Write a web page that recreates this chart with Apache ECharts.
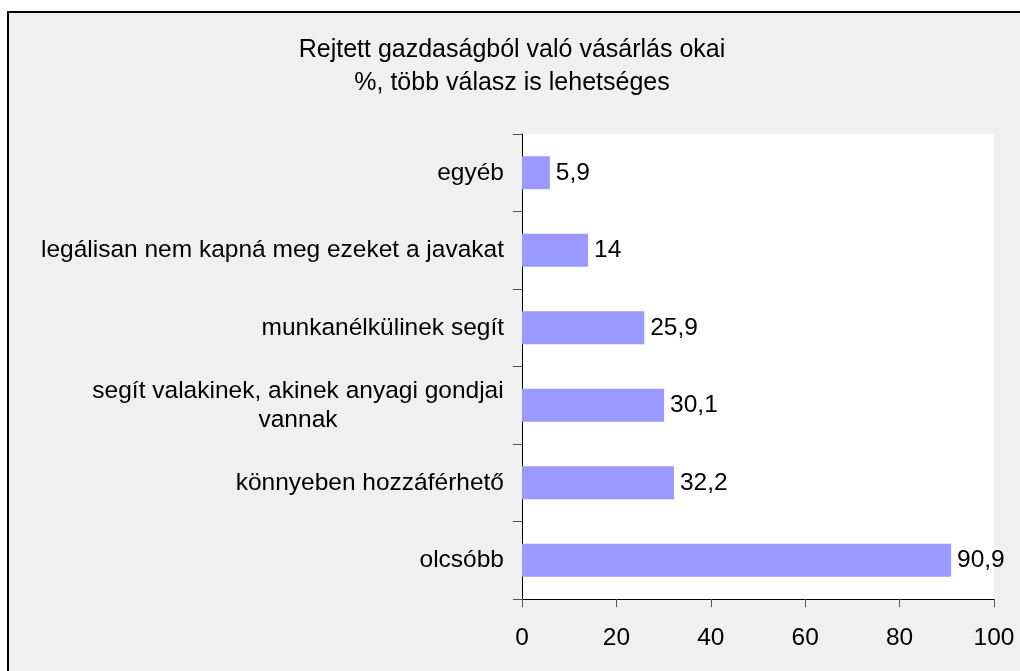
<!DOCTYPE html>
<html>
<head>
<meta charset="utf-8">
<script src="https://cdn.jsdelivr.net/npm/echarts@6/dist/echarts.min.js"></script>
<style>
	html, body { margin: 0; padding: 0; background: #fff; }
	#chart { width: 1020px; height: 671px; }
</style>
</head>
<body>
<div id="chart"></div>
<script>
	// bottom to top, as in the picture
	var categories = [
		'olcsóbb',
		'könnyeben hozzáférhető',
		'segít valakinek, akinek anyagi gondjai\nvannak',
		'munkanélkülinek segít',
		'legálisan nem kapná meg ezeket a javakat',
		'egyéb'
	];
	var values = [90.9, 32.2, 30.1, 25.9, 14, 5.9];
	var titleLines = ['Rejtett gazdaságból való vásárlás okai', '%, több válasz is lehetséges'];

	var font = '"Liberation Sans", Arial, sans-serif';
	var fs = 24.5;

	// widest line of a wrapped label, so its lines can be centred on each other
	function widest(txt) {
		var ctx = document.createElement('canvas').getContext('2d');
		ctx.font = fs + 'px ' + font;
		var w = 0;
		txt.split('\n').forEach(function(l) {
			w = Math.max(w, ctx.measureText(l).width);
		});
		return Math.ceil(w);
	}
	var wrapW = 0;
	categories.forEach(function(c) {
		if (c.indexOf('\n') >= 0) wrapW = Math.max(wrapW, widest(c));
	});

	var chart = echarts.init(document.getElementById('chart'));

	chart.setOption({
		animation: false,
		textStyle: { fontFamily: font },
		graphic: [{
			type: 'rect',
			z: -10,
			shape: { x: 8, y: 12, width: 1100, height: 800 },
			style: { fill: '#f0f0f0', stroke: '#000', lineWidth: 2 }
		}],
		title: {
			text: titleLines.join('\n'),
			left: 507,
			textAlign: 'center',
			top: 29,
			textStyle: {
				fontFamily: font,
				fontSize: 25,
				fontWeight: 'normal',
				color: '#000',
				lineHeight: 33
			}
		},
		grid: {
			left: 522,
			right: 26,
			top: 134,
			bottom: 72,
			show: true,
			backgroundColor: '#fff',
			borderWidth: 0
		},
		xAxis: {
			type: 'value',
			min: 0,
			max: 100,
			interval: 20,
			axisLine: { show: true, lineStyle: { color: '#000', width: 1 } },
			axisTick: { show: true, length: 8, lineStyle: { color: '#555' } },
			splitLine: { show: false },
			axisLabel: { color: '#000', fontSize: fs, margin: 27, fontFamily: font }
		},
		yAxis: {
			type: 'category',
			data: categories,
			axisLine: { show: true, lineStyle: { color: '#000', width: 1 } },
			axisTick: { show: true, length: 9, lineStyle: { color: '#555' } },
			axisLabel: {
				color: '#000',
				fontSize: fs,
				margin: 18,
				fontFamily: font,
				formatter: function(v) {
					return v.indexOf('\n') >= 0 ? '{m|' + v + '}' : v;
				},
				rich: {
					m: { width: wrapW, align: 'center', fontSize: fs, lineHeight: 29, fontFamily: font, color: '#000' }
				}
			}
		},
		series: [{
			type: 'bar',
			data: values,
			barWidth: 33,
			itemStyle: { color: '#9999ff' },
			label: {
				show: true,
				position: 'right',
				distance: 6,
				color: '#000',
				fontSize: fs,
				fontFamily: font,
				formatter: function(p) {
					return String(p.value).replace('.', ',');
				}
			}
		}]
	});
</script>
</body>
</html>
